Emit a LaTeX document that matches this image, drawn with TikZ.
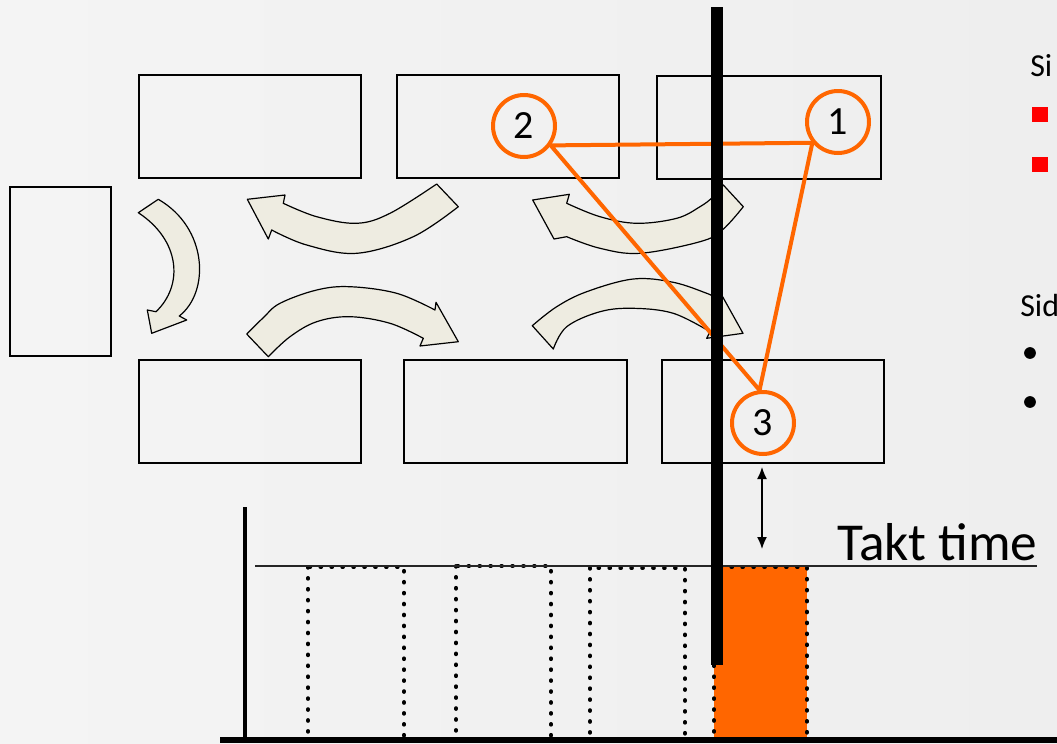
\documentclass[tikz,border=0pt]{standalone}
\usepackage{fontspec}
\setmainfont{Carlito}
\usetikzlibrary{arrows.meta}
\definecolor{bgl}{HTML}{F4F4F4}
\definecolor{bgm}{HTML}{E9E9E9}
\definecolor{bgr}{HTML}{EEEEEE}
\definecolor{org}{HTML}{FF6600}
\definecolor{beige}{HTML}{EEECE1}
\definecolor{redsq}{HTML}{FF0000}
\tikzset{
  station/.style={draw=black, line width=0.8pt, inner sep=0pt, minimum width=166.5pt, minimum height=77.25pt},
  flowarrow/.style={draw=black, fill=beige, line width=0.9pt, line join=round},
  stepnum/.style={circle, draw=org, line width=3pt, minimum size=46.5pt, inner sep=0pt, font=\fontsize{30}{32}\selectfont},
  walk/.style={draw=org, line width=3pt, line join=round},
  dotbox/.style={draw=black, line width=2.9pt, dash pattern=on 0.6pt off 7.6pt, line cap=round},
  sidetext/.style={anchor=base west, inner sep=0pt, font=\fontsize{24}{28}\selectfont},
}
\begin{document}
\begin{tikzpicture}[x=0.75pt,y=-0.75pt]
\useasboundingbox (0,0) rectangle (1057,743);
\shade[left color=bgl, middle color=bgm, right color=bgr] (0,0) rectangle (1057,743);

% stations
\node[station] (A) at (250,126.5) {};
\node[station] (B) at (508,126.5) {};
\node[station, minimum width=168pt] (C) at (769,127.5) {};
\node[station, minimum width=75.75pt, minimum height=126.75pt] (L) at (60.5,271.5) {};
\node[station] (D) at (250,411.5) {};
\node[station, minimum width=167.25pt] (E) at (515.5,411.5) {};
\node[station] (F) at (773,411.5) {};

% curved flow arrows
\draw[flowarrow] (158.3,199.3) -- (138.3,212.7)
  .. controls (180,240) and (184,285) .. (156,311.7)
  -- (147.3,310) -- (151.7,333.3) -- (186.7,320) -- (179.3,316)
  .. controls (210,292) and (208,228) .. (158.3,199.3)
  -- cycle;
\draw[flowarrow] (436.7,184)
  -- plot[smooth, tension=0.6] coordinates {(436.7,184) (390,213.3) (356.7,223.3) (316.7,216.7) (283.3,203.3)}
  -- (285,195) -- (247.3,199.3) -- (268.3,239) -- (271.7,230)
  -- plot[smooth, tension=0.6] coordinates {(271.7,230) (306.7,245) (356.7,253.3) (413.3,236.7) (458.3,206.7)}
  -- cycle;
\draw[flowarrow] (246.7,334)
  -- plot[smooth, tension=0.6] coordinates {(246.7,334) (263.3,317.7) (280,303.3) (316.7,290) (350,286.7) (396.7,293.3) (435,310)}
  -- (436,302.3) -- (458.3,341.7) -- (420,346) -- (423.3,338.3)
  -- plot[smooth, tension=0.6] coordinates {(423.3,338.3) (390,323.3) (350,316.7) (316.7,321.7) (290,336.7) (268.3,356.7)}
  -- cycle;
\draw[flowarrow] (532.7,200) -- (569.3,194.3) -- (566.7,203.3)
  -- plot[smooth, tension=0.6] coordinates {(566.7,203.3) (600,216.7) (636.7,223.3) (676.7,218.3) (700,206.7) (713.3,196.7) (723.3,185)}
  -- (743.3,206.7)
  -- plot[smooth, tension=0.6] coordinates {(743.3,206.7) (722.3,230) (700,241.7) (640,253.3) (600,248.3) (566.7,236.7)}
  -- (554,239) -- cycle;
\draw[flowarrow] (532.3,325.7)
  -- plot[smooth, tension=0.6] coordinates {(532.3,325.7) (556.7,306.7) (586.7,291.7) (633.3,279) (673.3,282.3) (706.7,293.3) (713.3,296.7)}
  -- (720,292) -- (743,333.3) -- (706.7,338.3) -- (710,331.7)
  -- plot[smooth, tension=0.6] coordinates {(710,331.7) (673.3,313.3) (633.3,308.3) (600,311.7) (566.7,326.7) (553.3,349)}
  -- cycle;

% chart: cycle time bars
\fill[org] (714,567) rectangle (807,740);
\draw[dotbox] (308,567) rectangle (404,740);
\draw[dotbox] (456,566) rectangle (551,740);
\draw[dotbox] (590,568) rectangle (685,740);
\draw[dotbox] (714,567) rectangle (807,740);
\draw[line width=1.1pt, black!85] (255,566) -- (1037,566);
\draw[line width=3pt] (245,507) -- (245,743);
\draw[line width=3.8pt] (220,740) -- (1057,740);

% operator walk
\node[stepnum] (c1) at (838,122) {1};
\node[stepnum] (c2) at (524,126) {2};
\node[stepnum] (c3) at (763,423) {3};
\draw[walk] (c2.-36) -- (c1.219) -- (c3.96) -- cycle;

% takt line bar
\draw[line width=8.4pt] (717,7) -- (717,665);

% takt gap arrow
\coordinate (gapTop) at (762,467);
\coordinate (gapBot) at (762,549);
\draw[line width=1.1pt, {Latex[length=9pt,width=7.5pt]}-{Latex[length=9pt,width=7.5pt]}] (gapTop) -- (gapBot);

\node[anchor=base west, inner sep=0pt, font=\fontsize{40}{44}\selectfont] (takt) at (837,560) {Takt time};

% right-hand text (cut off)
\node[sidetext] (t1) at (1030,76) {Si};
\fill[redsq] (1032,107) rectangle (1048,122);
\fill[redsq] (1032,157) rectangle (1048,172);
\node[sidetext] (t2) at (1020,316) {Sid};
\fill (1030,353) circle (4.4pt);
\fill (1030,402) circle (4.4pt);
\end{tikzpicture}
\end{document}
